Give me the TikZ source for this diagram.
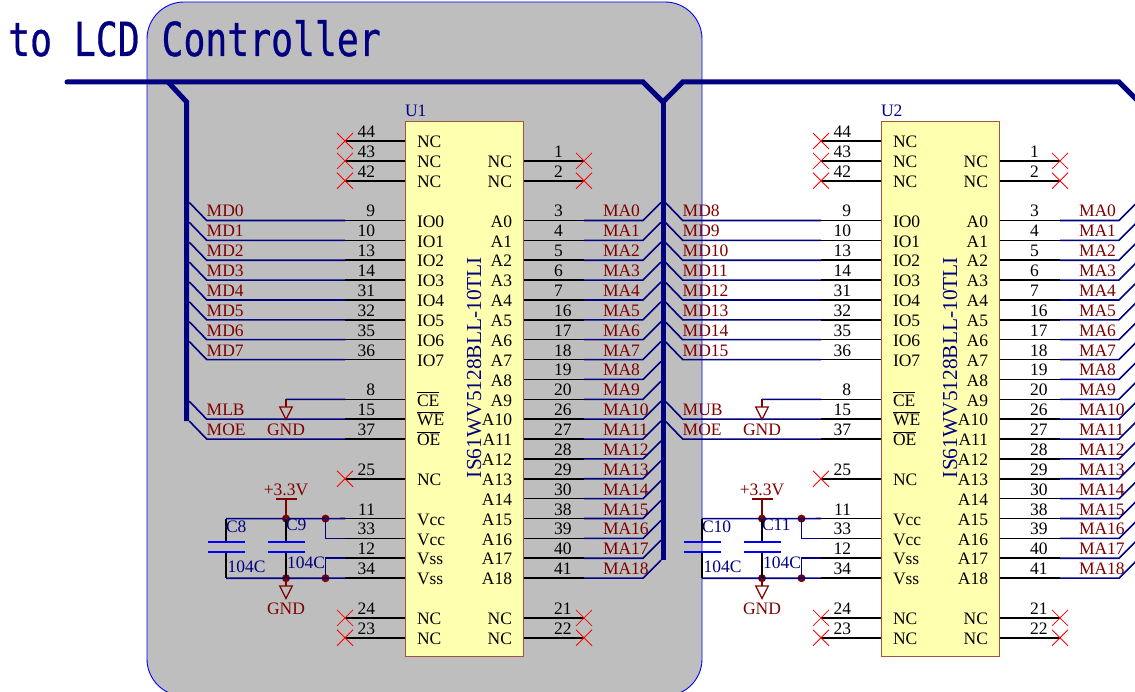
\documentclass[tikz,border=0pt]{standalone}
\usepackage{fontspec}
\setmainfont{Liberation Serif}
\newfontfamily\titlefont[FakeBold=0.7]{DejaVu Sans Mono}
\definecolor{nblue}{HTML}{000080}
\definecolor{nred}{HTML}{800000}
\definecolor{pgray}{HTML}{BEBEBE}
\definecolor{cyel}{HTML}{FFFFB0}
\definecolor{cbrd}{HTML}{A5533C}
\pgfdeclarelayer{fillL}\pgfdeclarelayer{labelL}\pgfdeclarelayer{outlineL}
\pgfsetlayers{fillL,labelL,outlineL,main}
\newcommand\ovl[1]{\leavevmode\vbox{\hrule height 1pt \kern 1.6pt \hbox{#1}}}
\tikzset{
  txt/.style={inner sep=0pt,outer sep=0pt,font=\fontsize{17.5}{19}\selectfont},
  pinname/.style={txt,text=black},
  pinnum/.style={txt,text=black},
  netlab/.style={txt,text=nred},
  parttxt/.style={txt,text=nblue},
  pinwire/.style={draw=black,line width=1.6pt},
  wire/.style={draw=nblue,line width=1.6pt},
  bus/.style={draw=nblue,line width=5pt,miter limit=10},
  redwire/.style={draw=nred,line width=1.5pt},
  blackwire/.style={draw=black,line width=1.6pt},
  plate/.style={draw=blue,line width=1.7pt},
  noconn/.style={draw=red,line width=.8pt},
  junc/.style={circle,fill=nred,draw=none,minimum size=8pt,inner sep=0pt},
  gndsym/.style={draw=nred,line width=1.2pt},
}
\newcommand\NoConn[1]{\draw[noconn] ([shift={(-8pt,-8pt)}]#1)--([shift={(8pt,8pt)}]#1) ([shift={(-8pt,8pt)}]#1)--([shift={(8pt,-8pt)}]#1);}
\newcommand\GndSym[1]{\draw[gndsym] ([xshift=-6.3pt]#1)--([xshift=6.3pt]#1)--([yshift=-12.5pt]#1)--cycle;}
% #1 prefix, #2 ref, #3 first cap, #4 second cap, #5 left net list
\newcommand\Chip[5]{%
  \begin{pgfonlayer}{labelL}
    \foreach \r/\t in {#5}{%
      \pgfmathsetmacro\ry{141+19.87*\r}
      \node[netlab,anchor=base west] (#1net\r) at (206.7,\ry-3.5) {\t};
    }
    \foreach \r/\t in {4/MA0,5/MA1,6/MA2,7/MA3,8/MA4,9/MA5,10/MA6,11/MA7,12/MA8,13/MA9,14/MA10,15/MA11,16/MA12,17/MA13,18/MA14,19/MA15,20/MA16,21/MA17,22/MA18}{%
      \pgfmathsetmacro\ry{141+19.87*\r}
      \node[netlab,anchor=base west] (#1ma\r) at (603,\ry-3.5) {\t};
    }
    \node[netlab,anchor=base] (#1gndA) at (286,435.5) {GND};
    \node[netlab,anchor=base] (#1pwr) at (286,495) {+3.3V};
    \node[netlab,anchor=base] (#1gndB) at (286,614) {GND};
  \end{pgfonlayer}
  \node[draw=cbrd,fill=cyel,line width=1pt,inner sep=0pt,minimum width=118pt,minimum height=535pt] (#1) at (464.5,389.2) {};
  \node[parttxt,anchor=base west] (#1ref) at (405,117) {#2};
  \node[parttxt,rotate=90,anchor=base,font=\fontsize{21.4}{23}\selectfont] (#1part) at (481,367.5) {IS61WV5128BLL-10TLI};
  % left pins
  \foreach \r/\n/\t in {0/44/NC,1/43/NC,2/42/NC,4/9/IO0,5/10/IO1,6/13/IO2,7/14/IO3,8/31/IO4,9/32/IO5,10/35/IO6,11/36/IO7,13/8/{\ovl{CE}},14/15/{\ovl{WE}},15/37/{\ovl{OE}},17/25/NC,19/11/Vcc,20/33/Vcc,21/12/Vss,22/34/Vss,24/24/NC,25/23/NC}{%
    \pgfmathsetmacro\ry{141+19.87*\r}
    \coordinate (#1LI\r) at (405,\ry);
    \coordinate (#1LO\r) at (345,\ry);
    \draw[pinwire] (#1LI\r)--(#1LO\r);
    \node[pinnum,anchor=base east] (#1Ln\r) at (375,\ry-3.5) {\n};
    \node[pinname,anchor=base west] (#1Lt\r) at (417,\ry+6.7) {\t};
  }
  % right pins
  \foreach \r/\n/\t in {1/1/NC,2/2/NC,4/3/A0,5/4/A1,6/5/A2,7/6/A3,8/7/A4,9/16/A5,10/17/A6,11/18/A7,12/19/A8,13/20/A9,14/26/A10,15/27/A11,16/28/A12,17/29/A13,18/30/A14,19/38/A15,20/39/A16,21/40/A17,22/41/A18,24/21/NC,25/22/NC}{%
    \pgfmathsetmacro\ry{141+19.87*\r}
    \coordinate (#1RI\r) at (524,\ry);
    \coordinate (#1RO\r) at (584,\ry);
    \draw[pinwire] (#1RI\r)--(#1RO\r);
    \node[pinnum,anchor=base west] (#1Rn\r) at (554,\ry-3.5) {\n};
    \node[pinname,anchor=base east] (#1Rt\r) at (512,\ry+6.7) {\t};
  }
  % no connects
  \foreach \r in {0,1,2,17,24,25}{\NoConn{#1LO\r}}
  \foreach \r in {1,2,24,25}{\NoConn{#1RO\r}}
  % data and control nets into the left bus
  \foreach \r in {4,...,11,14,15}{%
    \pgfmathsetmacro\ry{141+19.87*\r}
    \coordinate (#1Lk\r) at (206.7,\ry);
    \coordinate (#1Lb\r) at (189.3,\ry-18);
    \draw[wire] (#1LO\r)--(#1Lk\r)--(#1Lb\r);
  }
  % address nets into the right bus
  \foreach \r in {4,...,22}{%
    \pgfmathsetmacro\ry{141+19.87*\r}
    \coordinate (#1Rk\r) at (643,\ry);
    \coordinate (#1Rb\r) at (661,\ry-18);
    \draw[wire] (#1RO\r)--(#1Rk\r)--(#1Rb\r);
  }
  % CE to ground
  \coordinate (#1ceT) at (286,399.3);
  \coordinate (#1ceG) at (286,407);
  \draw[wire] (#1LO13)--(#1ceT);
  \draw[redwire] (#1ceT)--(#1ceG);
  \GndSym{#1ceG}
  % power
  \node[junc] (#1jV) at (286,518.6) {};
  \node[junc] (#1jV2) at (325.5,518.6) {};
  \node[junc] (#1jG) at (286,578.2) {};
  \node[junc] (#1jG2) at (325.5,578.2) {};
  \coordinate (#1bar) at (286,498.7);
  \coordinate (#1vL) at (226,518.6);
  \coordinate (#1gL) at (226,578.2);
  \coordinate (#1g2) at (286,586);
  \coordinate (#1a1) at (226,542.3);
  \coordinate (#1a2) at (226,552);
  \coordinate (#1b1) at (286,542.3);
  \coordinate (#1b2) at (286,552);
  \draw[wire] (#1vL)--(#1jV2.center)--(#1LO19);
  \draw[wire] (#1jV2.center)--(#1jV2.center|-#1LO20)--(#1LO20);
  \draw[wire] (#1gL)--(#1jG2.center)--(#1LO22);
  \draw[wire] (#1jG2.center)--(#1jG2.center|-#1LO21)--(#1LO21);
  \draw[blackwire] (#1vL)--(#1a1) (#1a2)--(#1gL);
  \draw[blackwire] (#1jV.center)--(#1b1) (#1b2)--(#1jG.center);
  \draw[redwire] (#1jV.center)--(#1bar);
  \draw[redwire,line width=1.8pt] ([xshift=-10.5pt]#1bar)--([xshift=10.5pt]#1bar);
  \draw[redwire] (#1jG.center)--(#1g2);
  \GndSym{#1g2}
  \foreach \c in {a1,a2,b1,b2}{\draw[plate] ([xshift=-18.5pt]#1\c)--([xshift=18.5pt]#1\c);}
  \node[parttxt,anchor=base west] (#1c1) at (226,532) {#3};
  \node[parttxt,anchor=base west] (#1v1) at (227.5,572.5) {104C};
  \node[parttxt,anchor=base west] (#1c2) at (286,530.5) {#4};
  \node[parttxt,anchor=base west] (#1v2) at (287,568.5) {104C};
}
\begin{document}
\begin{tikzpicture}[x=1pt,y=-1pt]
\useasboundingbox (0,0) rectangle (1135,692);
\begin{pgfonlayer}{fillL}
  \fill[pgray,rounded corners=37pt] (147,2) rectangle (702,696);
\end{pgfonlayer}
\begin{pgfonlayer}{outlineL}
  \draw[blue,line width=.9pt,rounded corners=37pt] (147,2) rectangle (702,696);
\end{pgfonlayer}
\node[anchor=base west,inner sep=0pt,text=nblue,yscale=1.29,font=\titlefont\fontsize{36.4}{38}\selectfont] (title) at (8,56) {to LCD Controller};
% buses
\coordinate (busS) at (67,82);
\coordinate (busA) at (168,82);
\coordinate (busB) at (186.7,102);
\coordinate (busC) at (186.7,421);
\coordinate (busD) at (643,82);
\coordinate (busE) at (663,102);
\coordinate (busF) at (663,560);
\coordinate (busG) at (682.7,82);
\coordinate (busH) at (1119,82);
\coordinate (busI) at (1139,102);
\coordinate (busJ) at (1139,560);
\draw[bus,line cap=round] (busS)--(busD)--(busE);
\draw[bus] (busE)--(busF);
\draw[bus] (busA)--(busB)--(busC);
\draw[bus] (busE)--(busG)--(busH)--(busI)--(busJ);
\begin{scope}
\Chip{ua}{U1}{C8}{C9}{4/MD0,5/MD1,6/MD2,7/MD3,8/MD4,9/MD5,10/MD6,11/MD7,14/MLB,15/MOE}
\end{scope}
\begin{scope}[xshift=476pt]
\Chip{ub}{U2}{C10}{C11}{4/MD8,5/MD9,6/MD10,7/MD11,8/MD12,9/MD13,10/MD14,11/MD15,14/MUB,15/MOE}
\end{scope}
\end{tikzpicture}
\end{document}
